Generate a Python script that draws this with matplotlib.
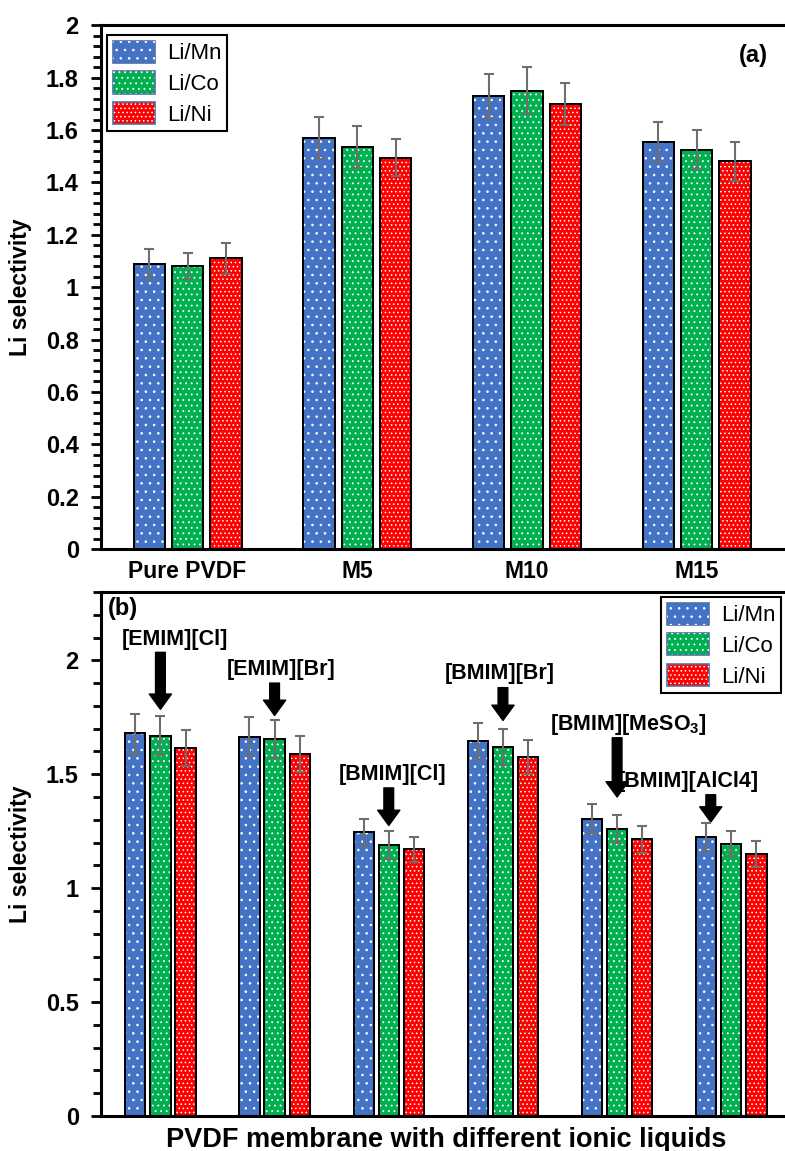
import numpy as np
import matplotlib
matplotlib.use("Agg")
from matplotlib import pyplot as plt
from matplotlib.patches import Patch
from matplotlib.legend_handler import HandlerTuple
from matplotlib.ticker import MultipleLocator

plt.rcParams["font.family"] = "Liberation Sans"
plt.rcParams["hatch.linewidth"] = 0.6

# --- data ---
series = ["Li/Mn", "Li/Co", "Li/Ni"]
colors = ["#4472C4", "#00B050", "#FF0000"]
hatches = ["..", "...", "...."]

groups_a = ["Pure PVDF", "M5", "M10", "M15"]
vals_a = {
    "Li/Mn": [1.09, 1.57, 1.73, 1.555],
    "Li/Co": [1.08, 1.535, 1.75, 1.525],
    "Li/Ni": [1.11, 1.495, 1.70, 1.48],
}
errs_a = {
    "Li/Mn": [0.055, 0.08, 0.085, 0.075],
    "Li/Co": [0.05, 0.08, 0.09, 0.075],
    "Li/Ni": [0.058, 0.07, 0.08, 0.075],
}

groups_b = ["[EMIM][Cl]", "[EMIM][Br]", "[BMIM][Cl]", "[BMIM][Br]",
            "[BMIM][MeSO$_{\\mathregular{3}}$]", "[BMIM][AlCl4]"]
vals_b = {
    "Li/Mn": [1.68, 1.665, 1.245, 1.645, 1.305, 1.225],
    "Li/Co": [1.67, 1.655, 1.19, 1.62, 1.26, 1.195],
    "Li/Ni": [1.615, 1.59, 1.17, 1.575, 1.215, 1.15],
}
errs_b = {
    "Li/Mn": [0.085, 0.085, 0.06, 0.08, 0.065, 0.06],
    "Li/Co": [0.085, 0.085, 0.06, 0.08, 0.06, 0.055],
    "Li/Ni": [0.08, 0.08, 0.055, 0.075, 0.06, 0.055],
}
# annotation text (x, y) and arrow (x, start y, end y), data coords
ann_text_xy = [(0.13, 2.09), (1.06, 1.96), (2.03, 1.50), (2.97, 1.94), (4.1, 1.72), (4.62, 1.47)]
ann_arrow = [(0.0, 2.035, 1.785), (1.0, 1.90, 1.758), (2.0, 1.44, 1.275),
             (3.0, 1.88, 1.736), (4.0, 1.66, 1.40), (4.82, 1.41, 1.29)]


def draw_bars(ax, vals, errs, n, width, step):
    x = np.arange(n)
    for i, s in enumerate(series):
        xi = x + (i - 1) * step
        ax.bar(xi, vals[s], width, color=colors[i], edgecolor="black", linewidth=1.3, zorder=2)
        ax.bar(xi, vals[s], width, color="none", edgecolor="white", hatch=hatches[i],
               linewidth=0, zorder=3)
        ax.bar(xi, vals[s], width, color="none", edgecolor="black", linewidth=1.3, zorder=4)
        ax.errorbar(xi, vals[s], yerr=errs[s], fmt="none", ecolor="#6e6e6e",
                    elinewidth=1.5, capsize=3.5, capthick=1.5, zorder=5)


def legend_handles():
    hs = []
    for i in range(3):
        hs.append((Patch(facecolor=colors[i], edgecolor="#4f6fa8", linewidth=1.2),
                   Patch(facecolor="none", edgecolor="white", hatch=hatches[i], linewidth=0)))
    return hs


def add_legend(ax, loc, anchor):
    leg = ax.legend(legend_handles(), series, handler_map={tuple: HandlerTuple(ndivide=1, pad=0)},
                    loc=loc, bbox_to_anchor=anchor, fontsize=16,
                    fancybox=False, edgecolor="black", framealpha=1, handlelength=1.9,
                    handleheight=1.15, labelspacing=0.32, borderpad=0.25, handletextpad=0.55,
                    borderaxespad=0)
    leg.get_frame().set_linewidth(1.5)
    return leg


def style_axis(ax):
    for sp in ["left", "bottom", "top"]:
        ax.spines[sp].set_linewidth(2.2)
    ax.spines["right"].set_visible(False)
    ax.tick_params(axis="y", which="both", direction="out", width=2, labelsize=17, pad=9)
    ax.tick_params(axis="y", which="major", length=7)
    ax.tick_params(axis="y", which="minor", length=6)
    ax.tick_params(axis="x", length=0)
    for t in ax.get_yticklabels():
        t.set_fontweight("bold")


fig = plt.figure(figsize=(7.85, 11.51), dpi=100)

# --- panel (a) ---
ax1 = fig.add_axes([0.1287, 0.523, 0.88, 0.455])
draw_bars(ax1, vals_a, errs_a, len(groups_a), 0.185, 0.226)
ax1.set_xlim(-0.51, 3.56)
ax1.set_ylim(0, 2)
ax1.yaxis.set_minor_locator(MultipleLocator(0.04))
ax1.set_yticks(np.arange(0, 2.01, 0.2))
ax1.set_yticklabels(["0", "0.2", "0.4", "0.6", "0.8", "1", "1.2", "1.4", "1.6", "1.8", "2"])
ax1.set_xticks(np.arange(len(groups_a)))
ax1.set_xticklabels(groups_a, fontsize=16.5, fontweight="bold")
ax1.tick_params(axis="x", pad=8)
ax1.set_ylabel("Li selectivity", fontsize=16.5, fontweight="bold", labelpad=10)
style_axis(ax1)
ax1.text(0.965, 0.965, "(a)", transform=ax1.transAxes, ha="right", va="top",
         fontsize=17, fontweight="bold")
add_legend(ax1, "upper left", (0.009, 0.981))

# --- panel (b) ---
ax2 = fig.add_axes([0.1287, 0.0304, 0.88, 0.4553])
draw_bars(ax2, vals_b, errs_b, len(groups_b), 0.177, 0.22)
ax2.set_xlim(-0.52, 5.53)
ax2.set_ylim(0, 2.3)
ax2.set_yticks([0, 0.5, 1, 1.5, 2])
ax2.set_yticklabels(["0", "0.5", "1", "1.5", "2"])
ax2.yaxis.set_minor_locator(MultipleLocator(0.1))
ax2.set_xticks([])
ax2.set_xlabel("PVDF membrane with different ionic liquids", fontsize=19.5, fontweight="bold",
               labelpad=8)
ax2.set_ylabel("Li selectivity", fontsize=16.5, fontweight="bold", labelpad=10)
style_axis(ax2)
ax2.text(0.01, 0.99, "(b)", transform=ax2.transAxes, ha="left", va="top",
         fontsize=17, fontweight="bold")
for lab, (tx, ty) in zip(groups_b, ann_text_xy):
    ax2.text(tx, ty, lab, ha="center", va="center", fontsize=15.5, fontweight="bold")
for axx, y0, y1 in ann_arrow:
    ax2.annotate("", xy=(axx, y1), xytext=(axx, y0),
                 arrowprops=dict(arrowstyle="simple,head_length=0.55,head_width=0.8,tail_width=0.35",
                                 mutation_scale=20, shrinkA=0, shrinkB=0,
                                 facecolor="black", edgecolor="black"))
add_legend(ax2, "upper right", (0.985, 0.99))

fig.savefig("out.png", dpi=100)
